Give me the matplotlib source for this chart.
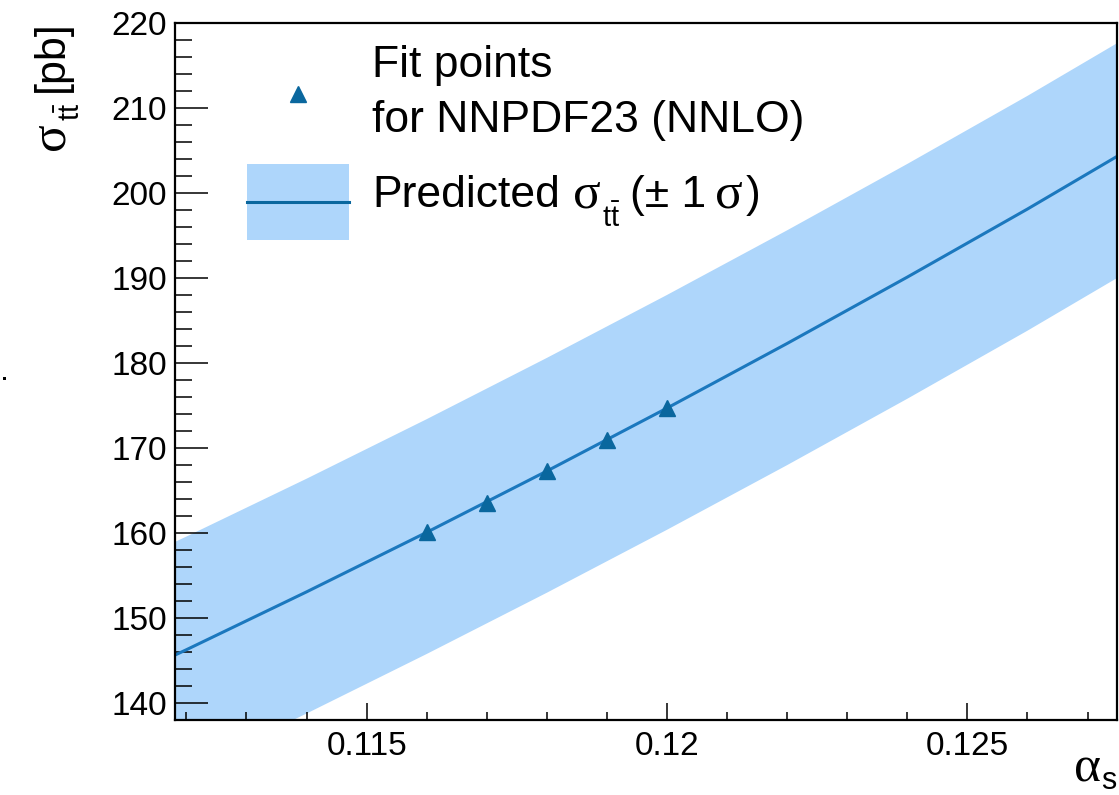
import matplotlib
matplotlib.use("Agg")
import matplotlib.pyplot as plt
from matplotlib.lines import Line2D
from matplotlib.patches import Rectangle
from matplotlib.ticker import MultipleLocator, FixedLocator, FixedFormatter

plt.rcParams['font.family'] = ['Liberation Sans', 'DejaVu Sans']
plt.rcParams['mathtext.fontset'] = 'custom'
plt.rcParams['mathtext.rm'] = 'Liberation Sans'
plt.rcParams['mathtext.it'] = 'Liberation Sans:italic'
plt.rcParams['mathtext.default'] = 'rm'

# ---- data ----
fit_alpha = [0.116, 0.117, 0.118, 0.119, 0.120]
fit_sigma = [160.1, 163.6, 167.3, 170.9, 174.7]

pred_alpha = [0.110, 0.112, 0.114, 0.116, 0.118, 0.120, 0.122, 0.124, 0.126, 0.128]
pred_sigma = [139.7, 146.3, 153.1, 160.1, 167.3, 174.7, 182.3, 190.1, 198.1, 206.4]
pred_upper = [153.0, 159.6, 166.4, 173.4, 180.6, 188.0, 195.6, 203.4, 211.4, 219.7]
pred_lower = [125.4, 132.0, 138.8, 145.8, 153.0, 160.4, 168.0, 175.8, 183.8, 192.1]

x_major = [0.115, 0.12, 0.125]
x_major_labels = ["0.115", "0.12", "0.125"]

band_color = '#AED6FB'
line_color = '#1B78BE'
marker_color = '#0A679E'

SANS = ['Liberation Sans', 'DejaVu Sans']
SERIF = ['Liberation Serif', 'DejaVu Serif']

W, H = 1119, 795
fig = plt.figure(figsize=(W / 100, H / 100), dpi=100)
ax = fig.add_axes([175 / W, 1 - 720 / H, (1117 - 175) / W, (720 - 22.7) / H])

ax.fill_between(pred_alpha, pred_lower, pred_upper, color=band_color, lw=0, zorder=1)
ax.plot(pred_alpha, pred_sigma, color=line_color, lw=2.2, zorder=2)
ax.plot(fit_alpha, fit_sigma, ls='none', marker='^', ms=11, color=marker_color,
        mec=marker_color, zorder=3)

ax.set_xlim(0.11181, 0.12749)
ax.set_ylim(138.04, 220)

ax.xaxis.set_major_locator(FixedLocator(x_major))
ax.xaxis.set_major_formatter(FixedFormatter(x_major_labels))
ax.xaxis.set_minor_locator(MultipleLocator(0.001))
ax.yaxis.set_major_locator(MultipleLocator(10))
ax.yaxis.set_minor_locator(MultipleLocator(2))

ax.tick_params(axis='both', which='both', direction='in', width=1.1, colors='black',
               top=False, right=False)
ax.tick_params(axis='y', which='major', length=24, labelsize=24, pad=6)
ax.tick_params(axis='y', which='minor', length=12)
ax.tick_params(axis='x', which='major', length=12, labelsize=24, pad=8)
ax.tick_params(axis='x', which='minor', length=6)
for s in ax.spines.values():
    s.set_linewidth(1.6)
    s.set_zorder(5)

renderer = fig.canvas.get_renderer()


def layout(pieces, x0, y0, rotation=0, right_end=None):
    """Place text pieces one after another; x0, y0 in pixels from bottom-left."""
    pos = 0.0
    placed = []
    for txt, size, fam, off, gap in pieces:
        if rotation == 0:
            x, y = x0 + pos, y0 + off
        else:
            x, y = x0 - off, y0 + pos
        t = fig.text(x / W, y / H, txt, fontsize=size, family=fam, ha='left',
                     va='baseline', rotation=rotation, rotation_mode='anchor')
        placed.append((t, x, y))
        bb = t.get_window_extent(renderer)
        pos += (bb.width if rotation == 0 else bb.height) + gap
    if right_end is not None and rotation == 0:
        shift = right_end - (x0 + pos)
        for t, x, y in placed:
            t.set_position(((x + shift) / W, y / H))


SIG = 37

# axis titles
layout([("\u03c3", SIG, SERIF, 0, 1),
        (r"$t\bar{t}$", 21, SANS, -17, 10),
        ("[pb]", 31, SANS, 0, 0)], 63, H - 150, rotation=90)
layout([("\u03b1", SIG, SERIF, 0, 0),
        ("s", 22, SANS, -8, 0)], 1077, H - 781, right_end=1116)

# legend
fig.add_artist(Line2D([298 / W], [1 - 94 / H], ls='none', marker='^', ms=11.5,
                      color=marker_color, transform=fig.transFigure))
fig.add_artist(Rectangle((247 / W, 1 - 240 / H), (349 - 247) / W, (240 - 164) / H,
                         color=band_color, lw=0, transform=fig.transFigure))
fig.add_artist(Line2D([247 / W, 349 / W], [1 - 201.7 / H, 1 - 201.7 / H],
                      color=marker_color, lw=2.2, transform=fig.transFigure))
fig.text(372 / W, 1 - 77 / H, 'Fit points', ha='left', va='baseline', fontsize=32)
fig.text(372 / W, 1 - 132 / H, 'for NNPDF23 (NNLO)', ha='left', va='baseline', fontsize=32)
layout([("Predicted", 32, SANS, 0, 13),
        ("\u03c3", SIG, SERIF, 0, 1),
        (r"$t\bar{t}$", 21, SANS, -20, 10),
        ("(\u00b1 1", 32, SANS, 0, 8),
        ("\u03c3", SIG, SERIF, 0, 3),
        (")", 32, SANS, 0, 0)], 372, H - 207)

# small stray mark on the left edge
fig.add_artist(Rectangle((3 / W, 1 - 380 / H), 3 / W, 3 / H, color='black', lw=0,
                         transform=fig.transFigure))

fig.savefig('out.png', dpi=100)
